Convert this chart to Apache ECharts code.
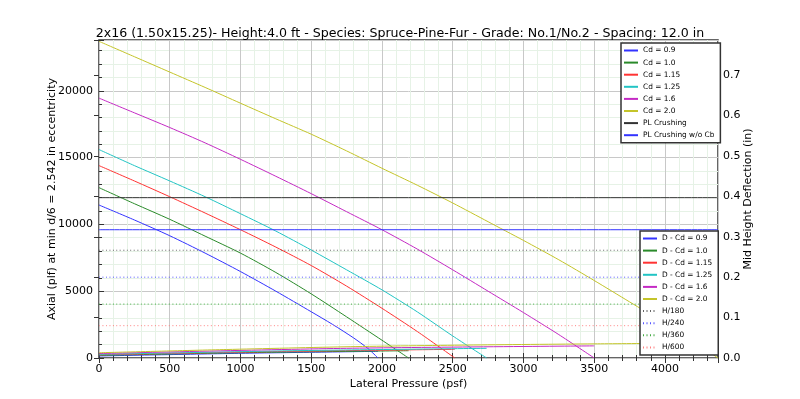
<!DOCTYPE html>
<html>
<head>
<meta charset="utf-8">
<script src="https://cdn.jsdelivr.net/npm/echarts@6/dist/echarts.min.js"></script>
<style>
  * { margin: 0; padding: 0; }
  #chart-container { width: 800px; height: 399px; background: #fff; }
</style>
</head>
<body>
<div id="chart-container"></div>
<script>
  // axial capacity curves (left axis, plf) vs lateral pressure (psf)
  var cd09X = [0, 250, 500, 750, 1000, 1250, 1500, 1650, 1800, 1900, 1972]
  var cd09Y = [11450, 10330, 9150, 7850, 6470, 5000, 3460, 2520, 1500, 720, 0]
  var cd10X = [0, 250, 500, 750, 1000, 1250, 1500, 1750, 2000, 2188]
  var cd10Y = [12750, 11550, 10380, 9120, 7850, 6400, 4800, 3080, 1330, 0]
  var cd115X = [0, 250, 500, 750, 1000, 1250, 1500, 1750, 2000, 2250, 2515]
  var cd115Y = [14400, 13250, 12070, 10850, 9600, 8300, 6920, 5380, 3720, 1980, 0]
  var cd125X = [0, 250, 500, 750, 1000, 1250, 1500, 1750, 2000, 2250, 2500, 2740]
  var cd125Y = [15600, 14400, 13250, 12070, 10800, 9500, 8080, 6600, 5100, 3450, 1650, 0]
  var cd16X = [0, 250, 500, 750, 1000, 1250, 1500, 1750, 2000, 2250, 2500, 2750, 3000, 3250, 3500]
  var cd16Y = [19450, 18350, 17250, 16100, 14870, 13600, 12300, 10950, 9600, 8150, 6600, 5000, 3400, 1750, 0]
  var cd20X = [0, 250, 500, 750, 1000, 1250, 1500, 1750, 2000, 2250, 2500, 2750, 3000, 3250, 3500, 3750, 4000, 4250, 4375]
  var cd20Y = [23700, 22550, 21400, 20250, 19070, 17900, 16750, 15500, 14200, 12930, 11600, 10200, 8800, 7350, 5800, 4200, 2600, 900, 0]

  // crushing limits (left axis)
  var plCrushing = 12000
  var plCrushingNoCb = 9600

  // mid height deflection curves (right axis, in)
  var d09X = [0, 985, 1972]
  var d09Y = [0.005, 0.0115, 0.0165]
  var d10X = [0, 1094, 2188]
  var d10Y = [0.0065, 0.0135, 0.018]
  var d115X = [0, 1260, 2515]
  var d115Y = [0.008, 0.016, 0.0215]
  var d125X = [0, 1370, 2740]
  var d125Y = [0.009, 0.018, 0.024]
  var d16X = [0, 1750, 3500]
  var d16Y = [0.011, 0.024, 0.030]
  var d20X = [0, 900, 1775, 2600, 3500, 4375]
  var d20Y = [0.013, 0.021, 0.028, 0.032, 0.035, 0.037]

  // deflection limits, H = 48 in
  var heightIn = 48
  var limitNames = ['H/180', 'H/240', 'H/360', 'H/600']
  var limitDiv = [180, 240, 360, 600]

  var xMax = 4375
  var yMax = 23800
  var y2Max = 0.787

  function zip(xs, ys) {
    return xs.map(function (x, i) { return [x, ys[i]] })
  }

  var colors = {
    b: '#3333ff', g: '#2a8a2a', r: '#ff3333', c: '#22c4c4', m: '#c42ac4', y: '#c4c42a'
  }

  function line(name, data, color, axis, type) {
    return {
      name: name,
      type: 'line',
      yAxisIndex: axis,
      data: data,
      symbol: 'none',
      silent: true,
      smooth: 0.25,
      lineStyle: { color: color, width: 1, type: type || 'solid' },
      itemStyle: { color: color },
      z: 3
    }
  }

  var series = [
    line('Cd = 0.9', zip(cd09X, cd09Y), colors.b, 0),
    line('Cd = 1.0', zip(cd10X, cd10Y), colors.g, 0),
    line('Cd = 1.15', zip(cd115X, cd115Y), colors.r, 0),
    line('Cd = 1.25', zip(cd125X, cd125Y), colors.c, 0),
    line('Cd = 1.6', zip(cd16X, cd16Y), colors.m, 0),
    line('Cd = 2.0', zip(cd20X, cd20Y), colors.y, 0),
    line('PL Crushing', [[0, plCrushing], [xMax, plCrushing]], '#333333', 0),
    line('PL Crushing w/o Cb', [[0, plCrushingNoCb], [xMax, plCrushingNoCb]], '#3333ff', 0),
    line('D - Cd = 0.9', zip(d09X, d09Y), colors.b, 1),
    line('D - Cd = 1.0', zip(d10X, d10Y), colors.g, 1),
    line('D - Cd = 1.15', zip(d115X, d115Y), colors.r, 1),
    line('D - Cd = 1.25', zip(d125X, d125Y), colors.c, 1),
    line('D - Cd = 1.6', zip(d16X, d16Y), colors.m, 1),
    line('D - Cd = 2.0', zip(d20X, d20Y), colors.y, 1)
  ]
  var limitColors = ['#666666', '#5555ff', '#44aa44', '#ff8080']
  limitNames.forEach(function (n, i) {
    var v = heightIn / limitDiv[i]
    series.push(line(n, [[0, v], [xMax, v]], limitColors[i], 1, [1, 2.5]))
  })

  var font = 'DejaVu Sans'
  var legendCommon = {
    orient: 'vertical',
    backgroundColor: '#fff',
    borderColor: '#333',
    borderWidth: 1.5,
    borderRadius: 0,
    itemWidth: 14,
    itemHeight: 8,
    itemGap: 5.1,
    padding: [4, 6, 4, 2],
    selectedMode: false,
    itemStyle: { opacity: 0 },
    textStyle: { fontFamily: font, fontSize: 7.4, color: '#000' },
    z: 10
  }

  var chart = echarts.init(document.getElementById('chart-container'), null, { renderer: 'canvas' })
  var option = {
    animation: false,
    title: {
      text: '2x16 (1.50x15.25)- Height:4.0 ft - Species: Spruce-Pine-Fur - Grade: No.1/No.2 - Spacing: 12.0 in',
      left: 'center',
      top: 22,
      textStyle: { fontFamily: font, fontSize: 12.6, fontWeight: 'normal', color: '#000' }
    },
    legend: [
      Object.assign({}, legendCommon, {
        left: 621, top: 43,
        data: series.slice(0, 8).map(function (s) { return s.name })
      }),
      Object.assign({}, legendCommon, {
        left: 640, top: 231,
        data: series.slice(8).map(function (s) { return s.name })
      })
    ],
    grid: {
      left: 99, right: 82, top: 40, bottom: 41,
      show: true, borderColor: '#333', borderWidth: 1.5
    },
    xAxis: [{
      type: 'value',
      min: 0, max: xMax, interval: 500,
      name: 'Lateral Pressure (psf)',
      nameLocation: 'middle',
      nameGap: 21,
      nameMoveOverlap: false,
      nameTextStyle: { fontFamily: font, fontSize: 11, color: '#000' },
      axisLine: { show: false },
      axisTick: { inside: true, length: 5, lineStyle: { color: '#333' } },
      minorTick: { show: true, splitNumber: 5, length: 3, lineStyle: { color: '#333' } },
      axisLabel: {
        fontFamily: font, fontSize: 11, color: '#000', margin: 6,
        formatter: function (v) { return v % 500 === 0 ? String(v) : '' }
      },
      splitLine: { show: true, lineStyle: { color: '#c8c8c8', width: 1 } },
      minorSplitLine: { show: true, lineStyle: { color: '#e6f2e6', width: 1 } }
    }, {
      type: 'value',
      position: 'top',
      min: 0, max: xMax, interval: 500,
      axisLine: { show: false },
      axisTick: { inside: true, length: 5, lineStyle: { color: '#333' } },
      minorTick: { show: true, splitNumber: 5, length: 3, lineStyle: { color: '#333' } },
      axisLabel: { show: false },
      splitLine: { show: false }
    }],
    yAxis: [{
      type: 'value',
      min: 0, max: yMax, interval: 5000,
      name: 'Axial (plf) at min d/6 = 2.542 in eccentricity',
      nameLocation: 'middle',
      nameGap: 41,
      nameMoveOverlap: false,
      nameTextStyle: { fontFamily: font, fontSize: 11, color: '#000' },
      axisLine: { show: false },
      axisTick: { inside: true, length: 5, lineStyle: { color: '#333' } },
      minorTick: { show: true, splitNumber: 5, length: 3, lineStyle: { color: '#333' } },
      axisLabel: {
        fontFamily: font, fontSize: 11, color: '#000', margin: 6,
        formatter: function (v) { return v % 5000 === 0 ? String(v) : '' }
      },
      splitLine: { show: true, lineStyle: { color: '#c8c8c8', width: 1 } },
      minorSplitLine: { show: true, lineStyle: { color: '#e6f2e6', width: 1 } }
    }, {
      type: 'value',
      position: 'right',
      min: 0, max: y2Max, interval: 0.1,
      name: 'Mid Height Deflection (in)',
      nameLocation: 'middle',
      nameGap: 25,
      nameRotate: 90,
      nameMoveOverlap: false,
      nameTextStyle: { fontFamily: font, fontSize: 11, color: '#000' },
      axisLine: { show: false },
      axisTick: { inside: true, length: 5, lineStyle: { color: '#333' } },
      axisLabel: {
        fontFamily: font, fontSize: 11, color: '#000', margin: 5,
        formatter: function (v) {
          var r = Math.round(v * 10) / 10
          return Math.abs(v - r) < 1e-6 ? r.toFixed(1) : ''
        }
      },
      splitLine: { show: false }
    }],
    series: series
  }
  chart.setOption(option)
</script>
</body>
</html>
